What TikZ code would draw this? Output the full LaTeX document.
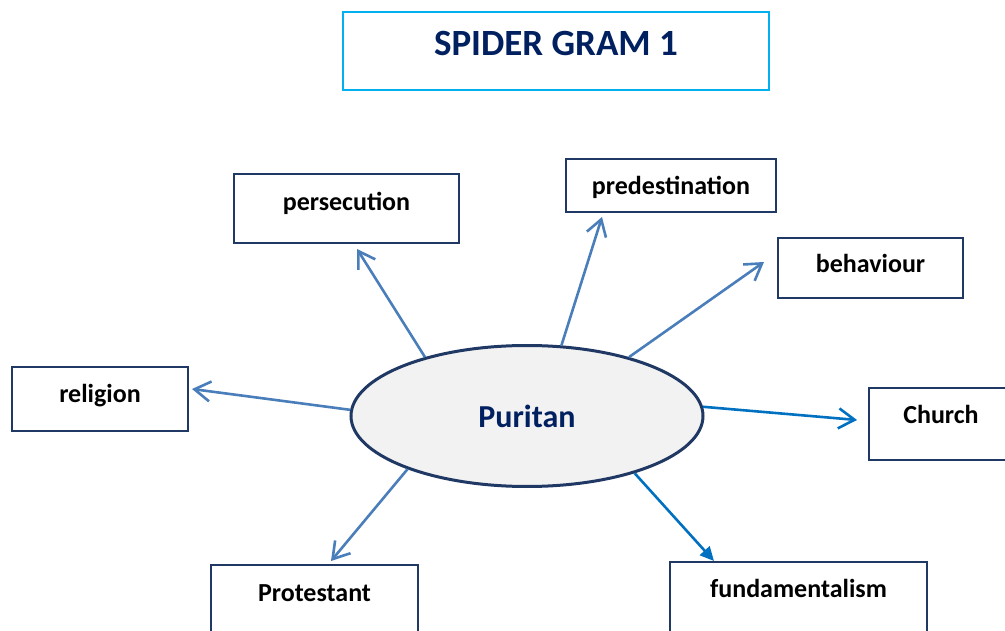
\documentclass[tikz,border=0pt]{standalone}
\usepackage{fontspec}
\setmainfont{Carlito}
\usetikzlibrary{shapes.geometric,arrows.meta}
\definecolor{navy}{HTML}{1F3864}
\definecolor{titleblue}{HTML}{002060}
\definecolor{skyline}{HTML}{00B0F0}
\definecolor{spokeblue}{HTML}{4A7EBB}
\definecolor{deepblue}{HTML}{0070C0}
\definecolor{ovalgray}{HTML}{F2F2F2}

\begin{document}
\begin{tikzpicture}[x=1pt,y=1pt,
wordbox/.style={draw=navy,line width=1.5pt,inner sep=0pt,font=\fontsize{26}{30}\selectfont\bfseries},
spoke/.style={draw=spokeblue,line width=2.6pt,-{Straight Barb[length=16pt,width=20pt]}}]
\useasboundingbox (0,0) rectangle (1005,-631);
\node (ttl) [draw=skyline,line width=1.5pt,inner sep=0pt,minimum width=426pt,text height=44pt,text depth=34pt,text=titleblue,font=\fontsize{37}{44}\selectfont\bfseries] at (556,-51) {SPIDER GRAM 1};
\node (pur) [ellipse,draw=navy,fill=ovalgray,line width=3pt,minimum width=352pt,minimum height=141pt,inner sep=0pt,text=titleblue,font=\fontsize{32}{36}\selectfont\bfseries] at (527,-416) {Puritan};
\node (pers) [wordbox,minimum width=225pt,text height=37pt,text depth=32pt] at (346.5,-208.5) {persecution};
\node (pred) [wordbox,minimum width=210pt,text height=36pt,text depth=17pt] at (671,-185.5) {predestination};
\node (behav) [wordbox,minimum width=185pt,text height=35pt,text depth=25pt] at (870.5,-268) {behaviour};
\node (relig) [wordbox,minimum width=176pt,text height=35pt,text depth=29pt] at (100,-399) {religion};
\node (church) [wordbox,minimum width=144pt,text height=35pt,text depth=37pt] at (941,-424) {Church};
\node (prot) [wordbox,minimum width=207pt,text height=36pt,text depth=34pt] at (314.5,-600) {Protestant};
\node (fund) [wordbox,minimum width=257pt,text height=35pt,text depth=38pt] at (798.5,-598.5) {fundamentalism};
\coordinate (persTip) at (357,-249);
\coordinate (predTip) at (602,-217);
\coordinate (behavTip) at (764,-262);
\coordinate (religTip) at (192,-389);
\coordinate (churchTip) at (857,-420);
\coordinate (protTip) at (331,-561);
\coordinate (fundTip) at (714,-561);
\draw [spoke] (pur.150) -- (persTip);
\draw [spoke] (pur.64) -- (predTip);
\draw [spoke] (pur.30) -- (behavTip);
\draw [spoke] (pur.178) -- (religTip);
\draw [spoke,draw=deepblue] (pur.3) -- (churchTip);
\draw [spoke] (pur.204) -- (protTip);
\draw [draw=deepblue,line width=2.6pt,-{Triangle[length=14pt,width=13pt]}] (pur.332) -- (fundTip);
\end{tikzpicture}
\end{document}
